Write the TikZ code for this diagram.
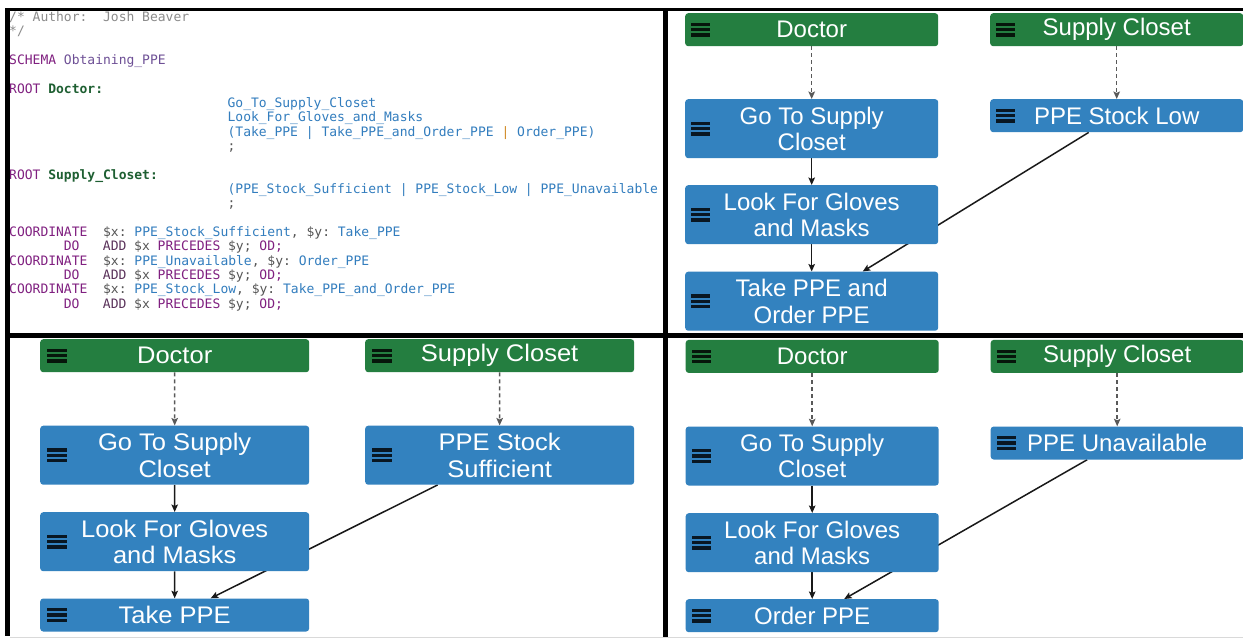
\documentclass[tikz,border=0pt]{standalone}
\usepackage{fontspec}
\setmainfont{Liberation Sans}
\newfontfamily\codefont{DejaVu Sans Mono}
\usetikzlibrary{arrows.meta,calc}
\pgfdeclarelayer{bg}
\pgfsetlayers{bg,main}
\definecolor{hdrgreen}{RGB}{36,126,64}
\definecolor{boxblue}{RGB}{51,130,191}
\definecolor{cgray}{RGB}{140,140,140}
\definecolor{kwpurple}{RGB}{128,32,128}
\definecolor{schpurple}{RGB}{110,80,150}
\definecolor{rootgreen}{RGB}{30,95,50}
\definecolor{idblue}{RGB}{50,125,190}
\definecolor{vargray}{RGB}{85,85,85}
\definecolor{pipeorange}{RGB}{210,140,40}
\definecolor{addpurple}{RGB}{90,50,90}
\newcommand{\kw}[1]{\textcolor{kwpurple}{#1}}
\newcommand{\idt}[1]{\textcolor{idblue}{#1}}
\newcommand{\vr}[1]{\textcolor{vargray}{#1}}
\tikzset{
  hamb/.style={path picture={\foreach \dy in {-6.8,-1.6,3.6}{\fill[black,opacity=.82,sharp corners] ([xshift=6pt,yshift=\dy pt]path picture bounding box.west) rectangle ++(19pt,3.2pt);}}},
  box/.style={rectangle, rounded corners=3pt, inner sep=0pt, minimum width=253pt, align=center, text=white, font=\fontsize{24}{26.5}\selectfont, anchor=north west, hamb},
  hdr/.style={box, fill=hdrgreen, minimum height=33pt},
  taskone/.style={box, fill=boxblue, minimum height=33pt},
  tasktwo/.style={box, fill=boxblue, minimum height=59pt},
  edge/.style={black!90, line width=1.5pt, -{Stealth[length=7.5pt,width=6.5pt,inset=1.5pt]}},
  dashedge/.style={black!65, line width=1.5pt, dash pattern=on 4pt off 3pt, -{Stealth[length=7.5pt,width=6.5pt,inset=1.5pt]}},
  codeline/.style={anchor=base west, inner sep=0pt, font=\codefont\fontsize{13}{14.3}\selectfont}
}
\begin{document}
\begin{tikzpicture}[x=1pt,y=-1pt]
\useasboundingbox (0,0) rectangle (1243,638);
\begin{pgfonlayer}{bg}
\fill[white] (0,0) rectangle (1243,638);
\end{pgfonlayer}

% ---------------- code panel ----------------
\node[codeline] (c0) at (9,21.5) {\textcolor{cgray}{/*~Author:~~Josh~Beaver}};
\node[codeline] (c1) at (9,35.8) {\textcolor{cgray}{*/}};
\node[codeline] (c3) at (9,64.5) {\kw{SCHEMA}~\textcolor{schpurple}{Obtaining\_PPE}};
\node[codeline] (c5) at (9,93.2) {\kw{ROOT}~\textcolor{rootgreen}{\bfseries Doctor:}};
\node[codeline] (c6) at (227.4,107.5) {\idt{Go\_To\_Supply\_Closet}};
\node[codeline] (c7) at (227.4,121.8) {\idt{Look\_For\_Gloves\_and\_Masks}};
\node[codeline] (c8) at (227.4,136.2) {\idt{(Take\_PPE~\textbar~Take\_PPE\_and\_Order\_PPE~}\textcolor{pipeorange}{\textbar}\idt{~Order\_PPE)}};
\node[codeline] (c9) at (227.4,150.5) {\vr{;}};
\node[codeline] (c11) at (9,179.2) {\kw{ROOT}~\textcolor{rootgreen}{\bfseries Supply\_Closet:}};
\node[codeline] (c12) at (227.4,193.5) {\idt{(PPE\_Stock\_Sufficient~\textbar~PPE\_Stock\_Low~\textbar~PPE\_Unavailable}};
\node[codeline] (c13) at (227.4,207.8) {\vr{;}};
\node[codeline] (c15) at (9,236.5) {\kw{COORDINATE}~~\vr{\$x:}~\idt{PPE\_Stock\_Sufficient}\vr{,}~\vr{\$y:}~\idt{Take\_PPE}};
\node[codeline] (c16) at (63.6,250.8) {\kw{DO}~~~\textcolor{addpurple}{ADD}~\vr{\$x}~\kw{PRECEDES}~\vr{\$y;}~\kw{OD;}};
\node[codeline] (c17) at (9,265.2) {\kw{COORDINATE}~~\vr{\$x:}~\idt{PPE\_Unavailable}\vr{,}~\vr{\$y:}~\idt{Order\_PPE}};
\node[codeline] (c18) at (63.6,279.5) {\kw{DO}~~~\textcolor{addpurple}{ADD}~\vr{\$x}~\kw{PRECEDES}~\vr{\$y;}~\kw{OD;}};
\node[codeline] (c19) at (9,293.8) {\kw{COORDINATE}~~\vr{\$x:}~\idt{PPE\_Stock\_Low}\vr{,}~\vr{\$y:}~\idt{Take\_PPE\_and\_Order\_PPE}};
\node[codeline] (c20) at (63.6,308.2) {\kw{DO}~~~\textcolor{addpurple}{ADD}~\vr{\$x}~\kw{PRECEDES}~\vr{\$y;}~\kw{OD;}};

% ---------------- top-right panel ----------------
\node[hdr] (trdoc) at (685,13) {Doctor};
\node[hdr] (trsup) at (990,13) {Supply Closet};
\node[tasktwo] (trgo) at (685,99) {Go To Supply\\Closet};
\node[taskone] (trlow) at (990,99) {PPE Stock Low};
\node[tasktwo] (trlook) at (685,185) {Look For Gloves\\and Masks};
\node[tasktwo] (trtake) at (685,271.5) {Take PPE and\\Order PPE};

% ---------------- bottom-left panel ----------------
\begin{scope}[shift={(40,0)}, xscale=1.063, transform shape]
\node[hdr] (bldoc) at (0,339) {Doctor};
\node[hdr] (blsup) at (305.7,339) {Supply Closet};
\node[tasktwo] (blgo) at (0,425.5) {Go To Supply\\Closet};
\node[tasktwo] (blsuf) at (305.7,425.5) {PPE Stock\\Sufficient};
\node[tasktwo] (bllook) at (0,512) {Look For Gloves\\and Masks};
\node[taskone] (bltake) at (0,598.3) {Take PPE};
\end{scope}

% ---------------- bottom-right panel ----------------
\node[hdr] (brdoc) at (685.5,339.7) {Doctor};
\node[hdr] (brsup) at (990.5,339.7) {Supply Closet};
\node[tasktwo] (brgo) at (685.5,426.3) {Go To Supply\\Closet};
\node[taskone] (brun) at (990.5,426.3) {PPE Unavailable};
\node[tasktwo] (brlook) at (685.5,513) {Look For Gloves\\and Masks};
\node[taskone] (brorder) at (685.5,599) {Order PPE};

% ---------------- connectors ----------------
\begin{pgfonlayer}{bg}
\draw[dashedge] (trdoc) -- (trgo);
\draw[dashedge] (trsup) -- (trlow);
\draw[edge] (trgo) -- (trlook);
\draw[edge] (trlook) -- (trtake);
\draw[edge] ([xshift=-28pt]trlow.south) -- ([xshift=51pt]trtake.north);

\draw[dashedge] (bldoc) -- (blgo);
\draw[dashedge] (blsup) -- (blsuf);
\draw[edge] (blgo) -- (bllook);
\draw[edge] (bllook) -- (bltake);
\draw[edge] ([xshift=-62pt]blsuf.south) -- ([xshift=36pt]bltake.north);

\draw[dashedge] (brdoc) -- (brgo);
\draw[dashedge] (brsup) -- (brun);
\draw[edge] (brgo) -- (brlook);
\draw[edge] (brlook) -- (brorder);
\draw[edge] ([xshift=-30pt]brun.south) -- ([xshift=32pt]brorder.north);
\end{pgfonlayer}

% ---------------- panel frame ----------------
\fill[black] (5,8) rectangle (1243,11);
\fill[black] (5,8) rectangle (10,636);
\fill[black] (663,8) rectangle (668,638);
\fill[black] (5,333) rectangle (1243,338);
\draw[black!15, line width=1pt] (10,637.5) -- (1243,637.5);
\end{tikzpicture}
\end{document}
